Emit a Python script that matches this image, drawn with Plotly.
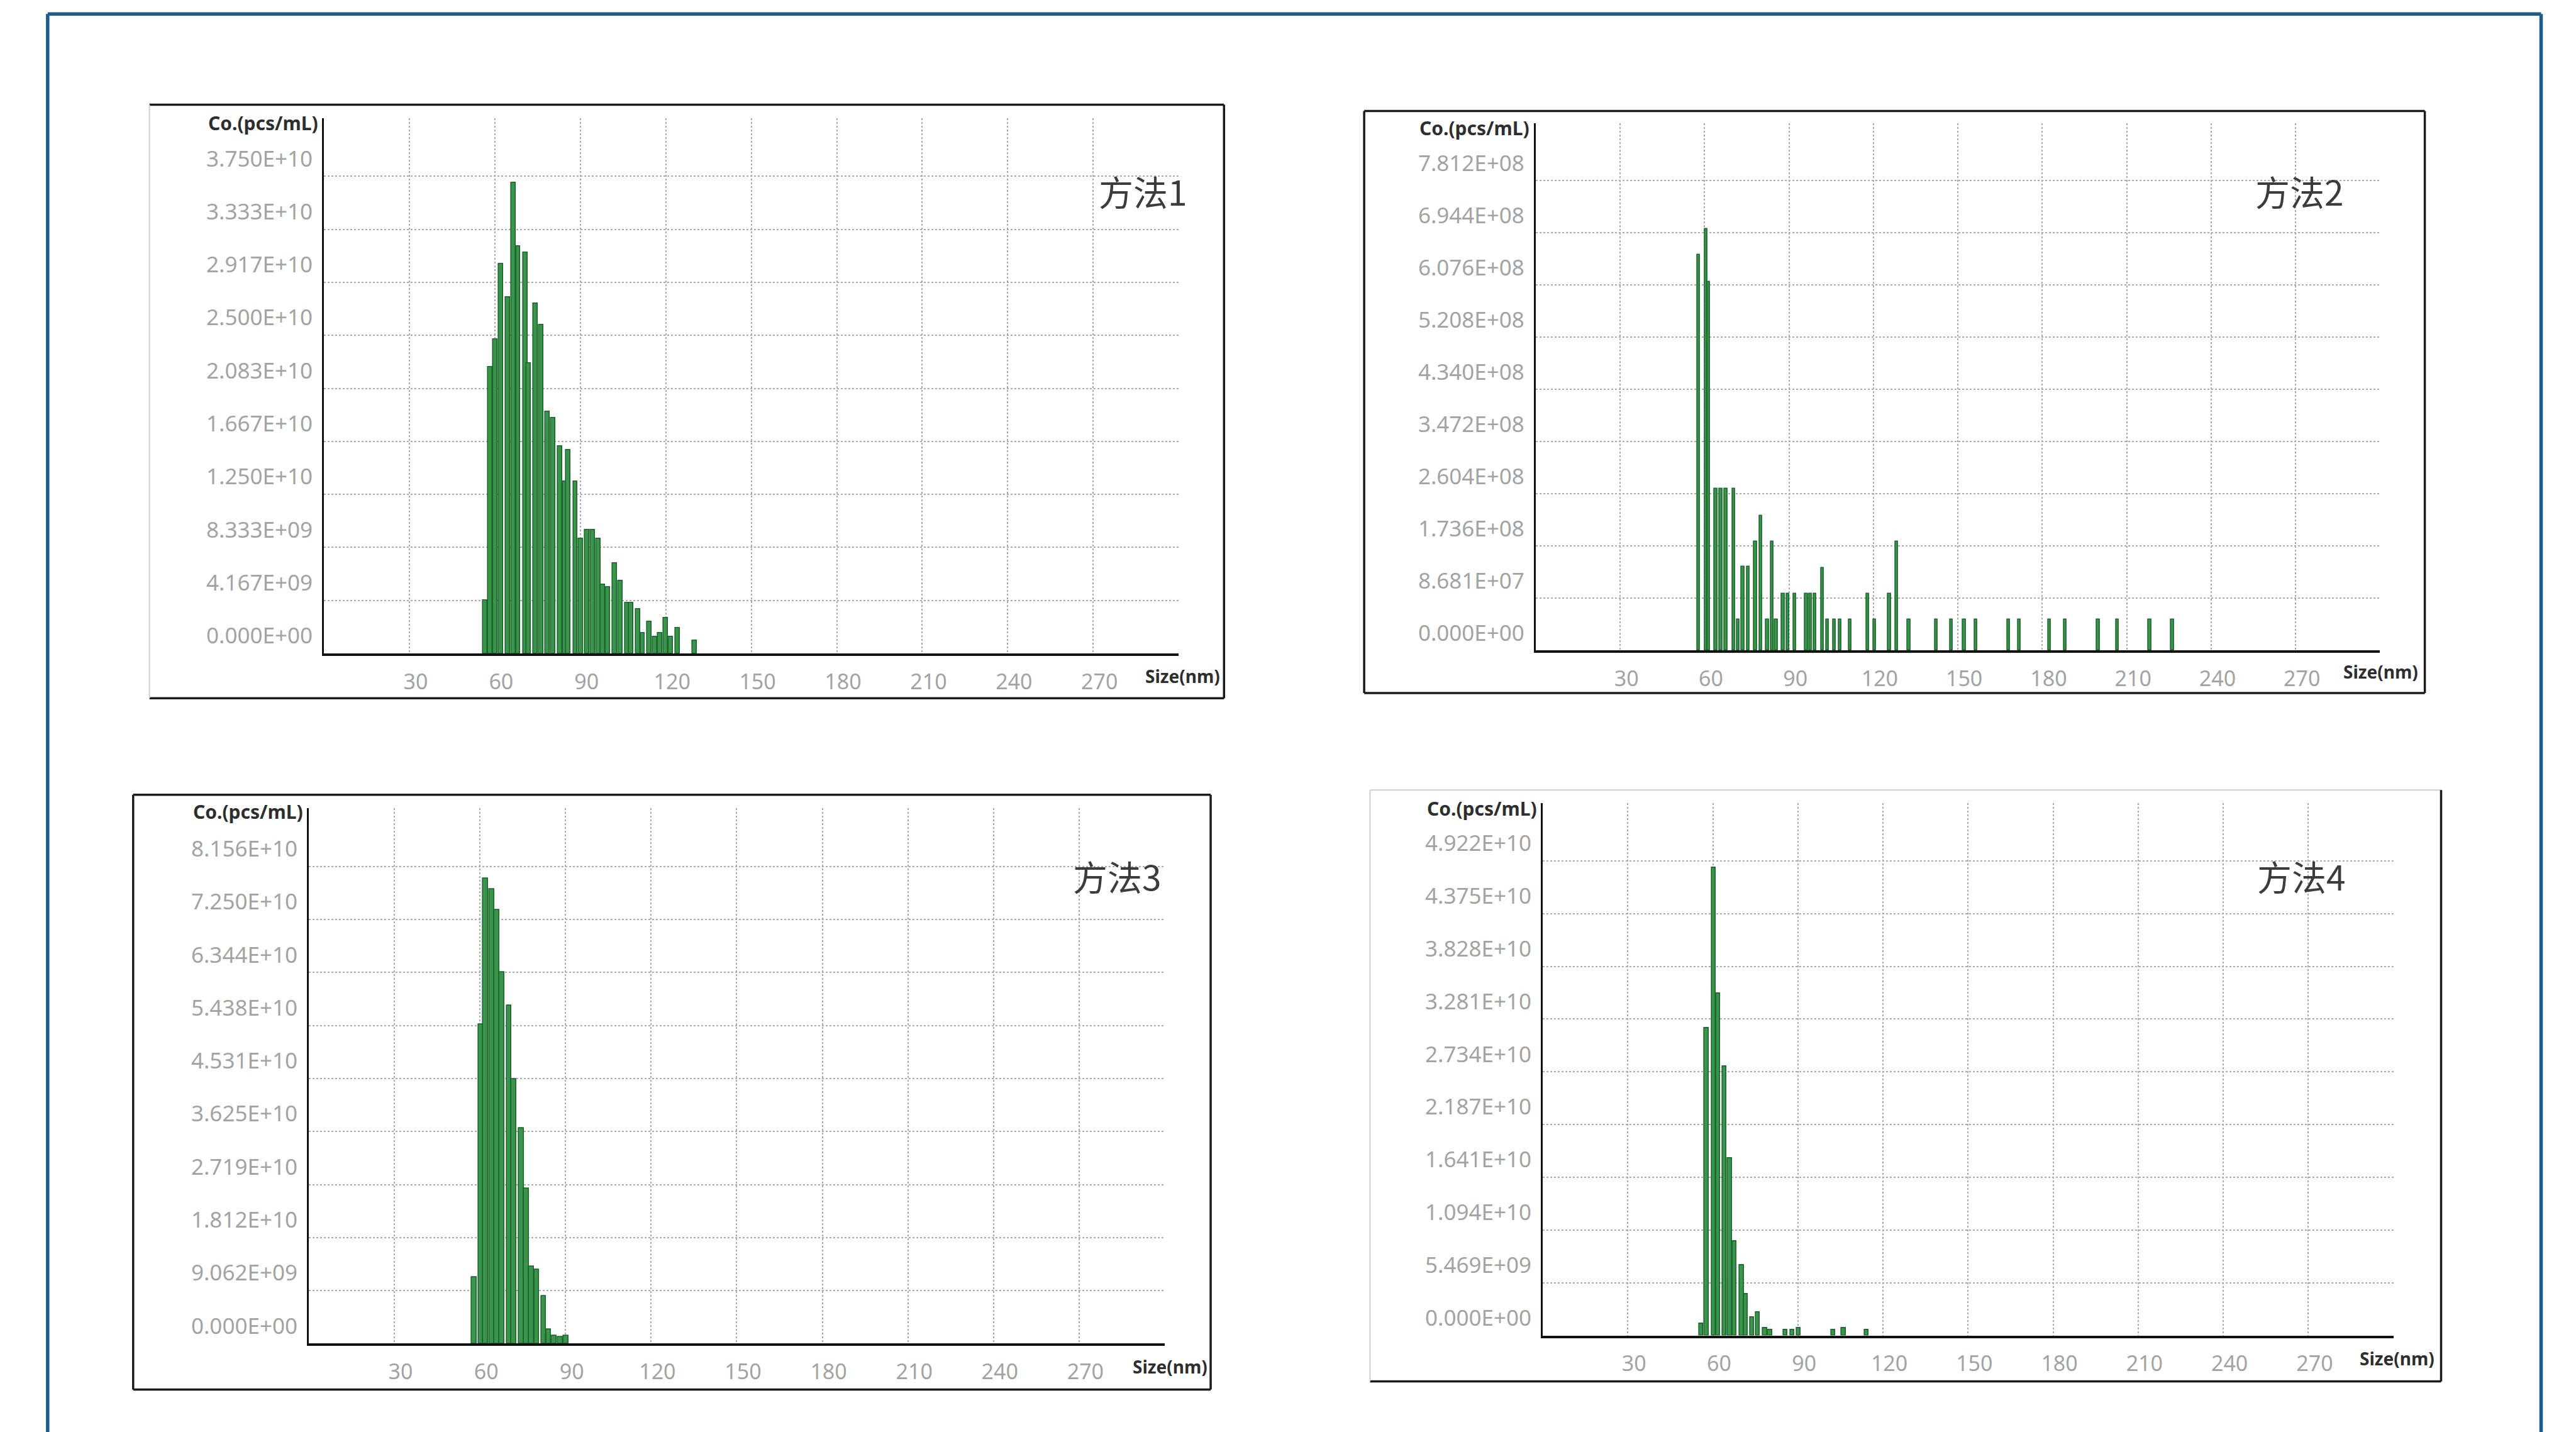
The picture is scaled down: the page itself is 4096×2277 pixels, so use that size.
import plotly.graph_objects as go

# reference geometry helpers (reference is 4430 x 2463)
W_REF, H_REF = 4430, 2463


def px(x):
    return x / W_REF


def py(y):
    return 1 - y / H_REF


# ---------------- data ----------------
x_ticks = [30, 60, 90, 120, 150, 180, 210, 240, 270]

p1_size = [56.6, 58.3, 60.2, 62.1, 64.5, 66.5, 68.2, 70.7, 71.9, 74.3, 76.2, 78.5, 80.4, 82.8,
           84.6, 85.8, 88.3, 90.1, 92.4, 94.3, 96.3, 97.9, 99.7, 102.1, 104.1, 106.5, 107.8,
           110.2, 111.9, 114.3, 116.2, 118.0, 120.0, 121.7, 124.1, 130.2]
p1_conc = [4.2e9, 2.25e10, 2.47e10, 3.06e10, 2.80e10, 3.70e10, 3.20e10, 3.15e10, 2.28e10,
           2.75e10, 2.58e10, 1.90e10, 1.85e10, 1.63e10, 1.35e10, 1.60e10, 1.35e10, 9.0e9,
           9.7e9, 9.7e9, 9.0e9, 5.4e9, 5.2e9, 7.1e9, 5.7e9, 4.0e9, 4.0e9, 3.5e9, 1.6e9,
           2.5e9, 1.3e9, 1.6e9, 2.8e9, 1.3e9, 2.0e9, 1.0e9]
p1_ticktext = ["0.000E+00", "4.167E+09", "8.333E+09", "1.250E+10", "1.667E+10",
               "2.083E+10", "2.500E+10", "2.917E+10", "3.333E+10", "3.750E+10"]

p2_size = [57.9, 60.5, 61.4, 64.0, 65.8, 67.6, 70.4, 71.9, 73.6, 75.5, 78.1, 80.0, 82.3, 84.0,
           85.5, 87.9, 89.6, 92.1, 96.2, 97.7, 99.2, 101.9, 103.7, 106.1, 108.1, 111.7, 118.0,
           120.5, 125.7, 128.3, 132.6, 142.4, 147.7, 152.3, 156.4, 168.0, 171.8, 182.6, 188.2,
           199.9, 206.7, 218.2, 226.3]
p2_conc = [6.58e8, 7.01e8, 6.13e8, 2.69e8, 2.69e8, 2.69e8, 2.69e8, 5.2e7, 1.40e8, 1.40e8,
           1.81e8, 2.24e8, 5.2e7, 1.81e8, 5.2e7, 9.5e7, 9.5e7, 9.5e7, 9.5e7, 9.5e7, 9.5e7,
           1.38e8, 5.2e7, 5.2e7, 5.2e7, 5.2e7, 9.5e7, 5.2e7, 9.5e7, 1.81e8, 5.2e7, 5.2e7,
           5.2e7, 5.2e7, 5.2e7, 5.2e7, 5.2e7, 5.2e7, 5.2e7, 5.2e7, 5.2e7, 5.2e7, 5.2e7]
p2_ticktext = ["0.000E+00", "8.681E+07", "1.736E+08", "2.604E+08", "3.472E+08",
               "4.340E+08", "5.208E+08", "6.076E+08", "6.944E+08", "7.812E+08"]

p3_size = [58.0, 60.3, 62.0, 64.1, 65.9, 67.6, 70.2, 71.9, 74.5, 76.3, 78.0, 79.9, 82.3,
           84.1, 86.0, 88.2, 90.1]
p3_conc = [1.14e10, 5.46e10, 7.95e10, 7.77e10, 7.41e10, 6.35e10, 5.78e10, 4.52e10, 3.68e10,
           2.65e10, 1.32e10, 1.26e10, 8.1e9, 2.4e9, 1.4e9, 1.1e9, 1.4e9]
p3_ticktext = ["0.000E+00", "9.062E+09", "1.812E+10", "2.719E+10", "3.625E+10",
               "4.531E+10", "5.438E+10", "6.344E+10", "7.250E+10", "8.156E+10"]

p4_size = [55.9, 57.8, 60.3, 61.9, 64.1, 66.0, 67.7, 70.2, 71.7, 73.9, 75.8, 78.4, 80.2,
           85.6, 88.1, 90.2, 102.4, 106.1, 114.2]
p4_conc = [1.26e9, 3.19e10, 4.85e10, 3.55e10, 2.79e10, 1.84e10, 9.8e9, 7.3e9, 4.3e9, 1.9e9,
           2.4e9, 7.7e8, 5.5e8, 5.5e8, 5.5e8, 7.7e8, 5.5e8, 7.7e8, 5.5e8]
p4_ticktext = ["0.000E+00", "5.469E+09", "1.094E+10", "1.641E+10", "2.187E+10",
               "2.734E+10", "3.281E+10", "3.828E+10", "4.375E+10", "4.922E+10"]

titles = ["方法1", "方法2", "方法3", "方法4"]
y_label = "Co.(pcs/mL)"
x_label = "Size(nm)"

# ---------------- layout config (reference pixels) ----------------
panels = [
    dict(size=p1_size, conc=p1_conc, top=3.75e10, ticktext=p1_ticktext, bw=1.5,
         x0=557, x1=2027, yb=1124, step_px=91.2,
         box=(257, 180, 2105, 1201), light=("left",),
         title_xy=(1966, 328), size_xy=(2100, 1163), co_y=212),
    dict(size=p2_size, conc=p2_conc, top=7.8125e8, ticktext=p2_ticktext, bw=1.0,
         x0=2641, x1=4093, yb=1119, step_px=89.8,
         box=(2346, 191, 4170, 1192), light=(),
         title_xy=(3955, 328), size_xy=(4161, 1155), co_y=220),
    dict(size=p3_size, conc=p3_conc, top=8.15625e10, ticktext=p3_ticktext, bw=1.7,
         x0=531, x1=2003, yb=2311, step_px=91.2,
         box=(229, 1367, 2082, 2390), light=(),
         title_xy=(1921, 1506), size_xy=(2079, 2350), co_y=1396),
    dict(size=p4_size, conc=p4_conc, top=4.921875e10, ticktext=p4_ticktext, bw=1.4,
         x0=2653, x1=4116, yb=2297, step_px=90.7,
         box=(2356, 1359, 4198, 2376), light=("left", "top"),
         title_xy=(3958, 1506), size_xy=(4189, 2336), co_y=1390),
]

N_STEPS = 10.1

fig = go.Figure()
shapes = []
annotations = []

font_family = "Noto Sans, Open Sans, sans-serif"

for i, p in enumerate(panels):
    sfx = "" if i == 0 else str(i + 1)
    step = p["top"] / 9.0
    fig.add_trace(go.Bar(
        x=p["size"], y=p["conc"], width=p["bw"],
        marker=dict(color="#3a944b", line=dict(color="#1b672c", width=1.6)),
        xaxis="x" + sfx, yaxis="y" + sfx, showlegend=False, hoverinfo="x+y",
    ))
    ytop_px = p["yb"] - N_STEPS * p["step_px"]
    fig.update_layout(**{
        "xaxis" + sfx: dict(
            domain=[px(p["x0"]), px(p["x1"])], anchor="y" + sfx, range=[0, 300],
            tickvals=x_ticks, ticktext=[str(v) for v in x_ticks], ticks="", ticklen=0,
            showgrid=True, gridcolor="#ababab", griddash="dot", gridwidth=1.6,
            showline=True, linecolor="#111111", linewidth=4, zeroline=False,
            tickfont=dict(family=font_family, size=34, color="#a3a3a3"),
            ticklabelshift=10, ticklabelstandoff=12, fixedrange=True,
        ),
        "yaxis" + sfx: dict(
            domain=[py(p["yb"]), py(ytop_px)], anchor="x" + sfx, range=[0, N_STEPS * step],
            tickvals=[k * step for k in range(10)], ticktext=p["ticktext"], ticks="", ticklen=0,
            showgrid=True, gridcolor="#ababab", griddash="dot", gridwidth=1.6,
            showline=True, linecolor="#111111", linewidth=3, zeroline=False,
            tickfont=dict(family=font_family, size=35, color="#a3a3a3"),
            ticklabelshift=-28, ticklabelstandoff=8, fixedrange=True,
        ),
    })

    # panel frame
    bx0, by0, bx1, by1 = p["box"]
    edges = {
        "top": (bx0, by0, bx1, by0),
        "right": (bx1, by0, bx1, by1),
        "bottom": (bx0, by1, bx1, by1),
        "left": (bx0, by0, bx0, by1),
    }
    for name, (ax0, ay0, ax1, ay1) in edges.items():
        light = name in p["light"]
        shapes.append(dict(
            type="line", xref="paper", yref="paper",
            x0=px(ax0), y0=py(ay0), x1=px(ax1), y1=py(ay1),
            line=dict(color="#cfcfcf" if light else "#1a1a1a", width=2 if light else 3.5),
        ))

    # axis titles and panel title
    annotations.append(dict(
        text=y_label, xref="paper", yref="paper", x=px(p["x0"] - 8), y=py(p["co_y"]),
        xanchor="right", yanchor="middle", showarrow=False,
        font=dict(family="Noto Sans, sans-serif", size=30, color="#2e2e2e", weight="bold"),
    ))
    annotations.append(dict(
        text=x_label, xref="paper", yref="paper", x=px(p["size_xy"][0]), y=py(p["size_xy"][1]),
        xanchor="right", yanchor="middle", showarrow=False,
        font=dict(family="Noto Sans, sans-serif", size=28, color="#2e2e2e", weight="bold"),
    ))
    annotations.append(dict(
        text=titles[i], xref="paper", yref="paper", x=px(p["title_xy"][0]), y=py(p["title_xy"][1]),
        xanchor="center", yanchor="middle", showarrow=False,
        font=dict(family="Noto Sans CJK SC, sans-serif", size=55, color="#3c3c3c"),
    ))

# outer blue frame (left, top, right; bottom runs off the page)
blue = "#1c5c8e"
for (ax0, ay0, ax1, ay1) in [(82, 24, 82, 2463), (82, 24, 4370, 24), (4370, 24, 4370, 2463)]:
    shapes.append(dict(type="line", xref="paper", yref="paper",
                       x0=px(ax0), y0=py(ay0), x1=px(ax1), y1=py(ay1),
                       line=dict(color=blue, width=5.5)))

fig.update_layout(
    width=4096, height=2277, margin=dict(l=0, r=0, t=0, b=0),
    paper_bgcolor="white", plot_bgcolor="rgba(0,0,0,0)",
    shapes=shapes, annotations=annotations, showlegend=False, bargap=0,
)

fig.write_html(
    "out.html",
    config={"responsive": False, "displayModeBar": False},
    post_script=(
        "document.body.style.margin='0';"
        "document.body.style.padding='0';"
        "document.body.style.overflow='hidden';"
        "document.documentElement.style.overflow='hidden';"
    ),
)
